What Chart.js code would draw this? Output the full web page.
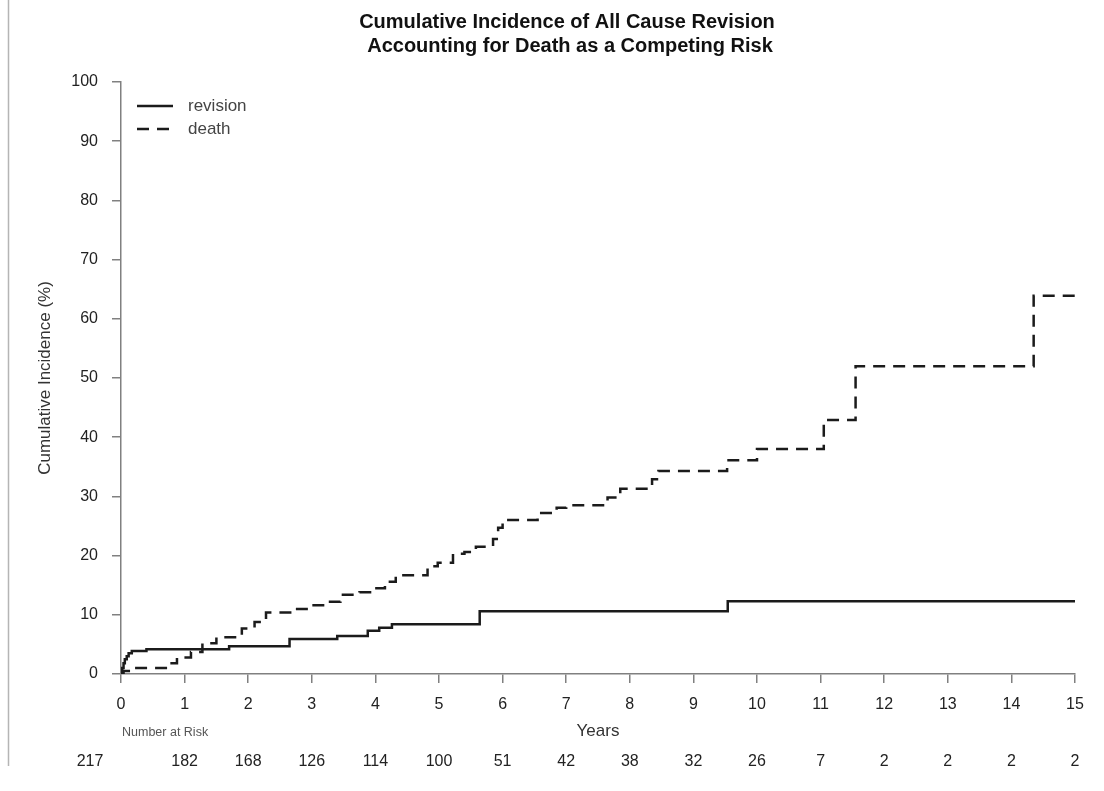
<!DOCTYPE html>
<html>
<head>
<meta charset="utf-8">
<script src="https://cdn.jsdelivr.net/npm/chart.js@4.4.1/dist/chart.umd.min.js"></script>
<style>
  html, body { margin: 0; padding: 0; background: #fff; }
  #wrap { width: 1104px; height: 791px; position: relative; }
</style>
</head>
<body>
<div id="wrap"><canvas id="c" width="1104" height="791"></canvas></div>
<script>
// ---- data ----
const titleLines = ['Cumulative Incidence of All Cause Revision', 'Accounting for Death as a Competing Risk'];
const xTicks = [0,1,2,3,4,5,6,7,8,9,10,11,12,13,14,15];
const yTicks = [0,10,20,30,40,50,60,70,80,90,100];
const numberAtRisk = [217,182,168,126,114,100,51,42,38,32,26,7,2,2,2,2];

const revisionTimes  = [0, 0.02, 0.04, 0.06, 0.09, 0.12, 0.17, 0.40, 1.70, 2.65, 3.40, 3.88, 4.06, 4.26, 5.64, 9.54, 15];
const revisionValues = [0, 1.0, 1.8, 2.5, 3.0, 3.5, 3.9, 4.2, 4.7, 5.9, 6.4, 7.3, 7.8, 8.4, 10.6, 12.3, 12.3];

const deathTimes  = [0, 0.04, 0.15, 0.75, 0.88, 1.10, 1.28, 1.50, 1.90, 2.10, 2.28, 2.70, 2.95, 3.25, 3.45, 3.75, 3.95, 4.15, 4.32, 4.82, 4.98, 5.22, 5.40, 5.58, 5.85, 5.93, 6.00, 6.55, 6.85, 7.00, 7.65, 7.85, 8.35, 8.45, 9.53, 10.00, 11.05, 11.55, 14.35, 15];
const deathValues = [0, 0.5, 1.0, 1.8, 2.8, 3.7, 5.2, 6.2, 7.7, 8.8, 10.4, 11.0, 11.6, 12.2, 13.4, 13.8, 14.5, 15.6, 16.7, 18.2, 18.8, 20.3, 20.6, 21.5, 22.8, 24.7, 26.0, 27.2, 28.1, 28.5, 29.8, 31.3, 32.9, 34.3, 36.1, 38.0, 42.9, 52.0, 63.9, 63.9];

const seriesLabels = ['revision', 'death'];
const xTitle = 'Years';
const yTitle = 'Cumulative Incidence (%)';
const riskTitle = 'Number at Risk';

const FONT = '"Liberation Sans", Arial, Helvetica, sans-serif';
const LINE = '#1b1b1b';
const AXIS = '#808080';

const toPts = (t, v) => t.map((x, i) => ({ x: x, y: v[i] }));

const extras = {
  id: 'extras',
  afterDraw(chart) {
    const ctx = chart.ctx;
    const xs = chart.scales.x;
    ctx.save();
    // left page border artefact
    ctx.strokeStyle = '#b5b5b5';
    ctx.lineWidth = 1.5;
    ctx.beginPath(); ctx.moveTo(8.5, 0); ctx.lineTo(8.5, 766); ctx.stroke();

    // titles
    ctx.fillStyle = '#111';
    ctx.textAlign = 'center';
    ctx.textBaseline = 'middle';
    ctx.font = 'bold 20px ' + FONT;
    ctx.fillText(titleLines[0], 567, 22);
    ctx.fillText(titleLines[1], 570, 46);

    // y title
    ctx.save();
    ctx.translate(45, 378);
    ctx.rotate(-Math.PI / 2);
    ctx.font = '17px ' + FONT;
    ctx.fillStyle = '#333';
    ctx.fillText(yTitle, 0, 0);
    ctx.restore();

    // x title
    ctx.font = '17px ' + FONT;
    ctx.fillStyle = '#333';
    ctx.fillText(xTitle, 598, 731);

    // number at risk
    ctx.textAlign = 'left';
    ctx.font = '12.5px ' + FONT;
    ctx.fillStyle = '#555';
    ctx.fillText(riskTitle, 122, 733);
    ctx.textAlign = 'center';
    ctx.font = '16px ' + FONT;
    ctx.fillStyle = '#222';
    numberAtRisk.forEach((n, i) => {
      ctx.fillText(String(n), xs.getPixelForValue(xTicks[i]) - (i === 0 ? 31 : 0), 762);
    });

    // legend
    chart.data.datasets.forEach((d, i) => {
      const y = 106 + i * 23;
      ctx.strokeStyle = LINE;
      ctx.lineWidth = 2.5;
      ctx.setLineDash(d.borderDash || []);
      ctx.beginPath(); ctx.moveTo(137, y); ctx.lineTo(173, y); ctx.stroke();
      ctx.setLineDash([]);
      ctx.textAlign = 'left';
      ctx.fillStyle = '#444';
      ctx.font = '17px ' + FONT;
      ctx.fillText(d.label, 188, y);
    });
    ctx.restore();
  }
};

new Chart(document.getElementById('c'), {
  type: 'line',
  data: {
    datasets: [
      { label: seriesLabels[0], data: toPts(revisionTimes, revisionValues), stepped: true,
        borderColor: LINE, borderWidth: 2.5, pointRadius: 0, fill: false },
      { label: seriesLabels[1], data: toPts(deathTimes, deathValues), stepped: true,
        borderColor: LINE, borderWidth: 2.5, borderDash: [12, 8], pointRadius: 0, fill: false }
    ]
  },
  options: {
    responsive: false,
    animation: false,
    devicePixelRatio: 1,
    layout: { padding: { left: 0, right: 29, top: 82, bottom: 0 } },
    plugins: { legend: { display: false }, title: { display: false }, tooltip: { enabled: false } },
    scales: {
      x: {
        type: 'linear', min: 0, max: 15,
        afterBuildTicks: s => { s.ticks = xTicks.map(v => ({ value: v })); },
        afterFit: s => { s.height = 117; },
        grid: { drawOnChartArea: false, drawTicks: true, tickLength: 9, color: AXIS, lineWidth: 1.5 },
        border: { display: true, color: AXIS, width: 1.5 },
        ticks: { color: '#222', font: { family: FONT, size: 16 }, padding: 12, maxRotation: 0, autoSkip: false }
      },
      y: {
        type: 'linear', min: 0, max: 100,
        afterBuildTicks: s => { s.ticks = yTicks.map(v => ({ value: v })); },
        afterFit: s => { s.width = 121; },
        grid: { drawOnChartArea: false, drawTicks: true, tickLength: 9, color: AXIS, lineWidth: 1.5 },
        border: { display: true, color: AXIS, width: 1.5 },
        ticks: { color: '#222', font: { family: FONT, size: 16 }, padding: 14, autoSkip: false }
      }
    }
  },
  plugins: [extras]
});
</script>
</body>
</html>
